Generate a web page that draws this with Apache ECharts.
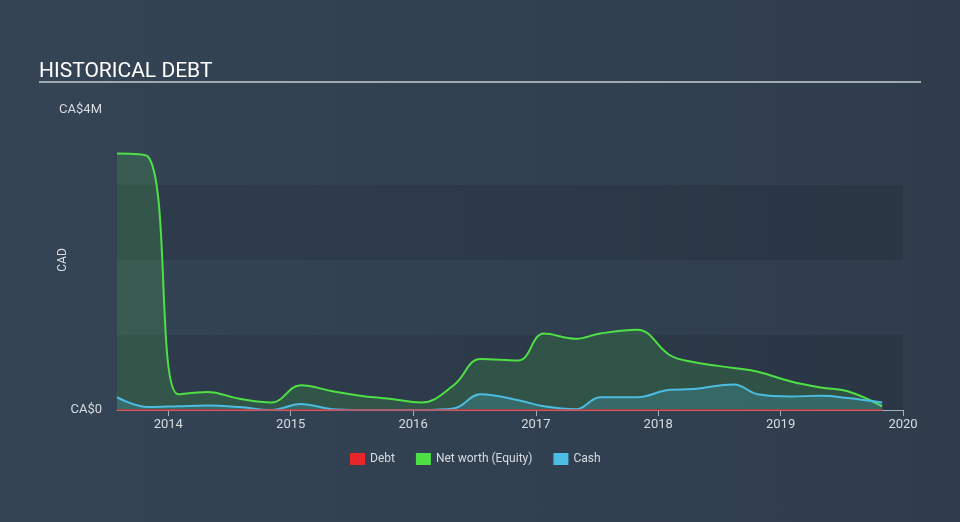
<!DOCTYPE html>
<html>
<head>
<meta charset="utf-8">
<script src="https://cdn.jsdelivr.net/npm/echarts@6/dist/echarts.min.js"></script>
<style>
html,body{margin:0;padding:0;}
#chart{width:960px;height:522px;background:linear-gradient(90deg,#354455 0%,#314050 60%,#2f3c4b 100%);}
</style>
</head>
<body>
<div id="chart"></div>
<script>
var dates = ['2013-08-01','2013-11-01','2014-01-31','2014-04-27','2014-08-01','2014-11-05','2015-01-31','2015-05-06','2015-07-27','2015-10-23','2016-01-25','2016-05-01','2016-07-20','2016-11-10','2017-01-25','2017-05-01','2017-07-12','2017-10-31','2018-02-05','2018-04-15','2018-08-15','2018-10-25','2019-02-01','2019-05-01','2019-07-20','2019-10-31'];
var netWorth = [3.42,3.38,0.21,0.24,0.15,0.10,0.33,0.25,0.19,0.15,0.10,0.33,0.68,0.66,1.02,0.95,1.02,1.07,0.73,0.64,0.56,0.51,0.38,0.30,0.25,0.05];
var cash = [0.17,0.04,0.05,0.06,0.04,0.00,0.08,0.01,0.00,0.00,0.00,0.02,0.21,0.13,0.05,0.01,0.17,0.17,0.27,0.28,0.34,0.21,0.18,0.19,0.16,0.10];
var debt = [0,0,0,0,0,0,0,0,0,0,0,0,0,0,0,0,0,0,0,0,0,0,0,0,0,0];
var yTickLabels = {0:'CA$0', 4:'CA$4M'};

function pairs(arr){ return dates.map(function(d,i){ return [d, arr[i]*1e6]; }); }

var chart = echarts.init(document.getElementById('chart'), null, {renderer:'canvas'});
var txt = '#d8dce0';
chart.setOption({
  backgroundColor: 'transparent',
  animation: false,
  textStyle: {fontFamily: 'Roboto, sans-serif'},
  title: {
    text: 'HISTORICAL DEBT', left: 34, top: 56,
    textStyle: {color: '#ffffff', fontSize: 21, fontWeight: 'normal', fontFamily: 'Roboto, sans-serif'}
  },
  graphic: [{
    type: 'rect', shape: {x: 39, y: 81, width: 882, height: 2},
    style: {fill: '#a4a9b0'}
  }],
  legend: {
    bottom: 52, left: 345, itemWidth: 15, itemHeight: 12, itemGap: 21,
    icon: 'rect',
    textStyle: {color: txt, fontSize: 12},
    data: ['Debt','Net worth (Equity)','Cash']
  },
  grid: {left: 117, right: 57, top: 110, bottom: 112, containLabel: false},
  xAxis: {
    type: 'time',
    min: '2013-08-01', max: '2020-01-01',
    minInterval: 365*86400000, maxInterval: 366*86400000,
    axisLine: {lineStyle: {color: '#a7adb5', width: 1}},
    axisTick: {show: true, length: 6, lineStyle: {color: '#a7adb5'}},
    axisLabel: {color: txt, fontSize: 13, formatter: '{yyyy}', showMinLabel: false, showMaxLabel: true, margin: 8},
    splitLine: {show: false}
  },
  yAxis: {
    type: 'value', min: 0, max: 4e6, interval: 1e6,
    name: 'CAD', nameLocation: 'middle', nameGap: 48, nameRotate: 90, nameMoveOverlap: false,
    nameTextStyle: {color: txt, fontSize: 12},
    axisLine: {show: false}, axisTick: {show: false},
    axisLabel: {color: txt, fontSize: 13, margin: 15,
      formatter: function(v){ var k = Math.round(v/1e6); return yTickLabels[k] !== undefined ? yTickLabels[k] : ''; }},
    splitLine: {show: false},
    splitArea: {show: true, areaStyle: {color: ['rgba(20,30,40,0.18)','rgba(0,0,0,0)']}}
  },
  series: [
    {name: 'Net worth (Equity)', type: 'line', data: pairs(netWorth), smooth: 0.4, symbol: 'none',
     lineStyle: {color: '#4fe046', width: 2}, itemStyle: {color: '#4fe046'},
     areaStyle: {color: 'rgba(78,226,74,0.22)'}, z: 2},
    {name: 'Cash', type: 'line', data: pairs(cash), smooth: 0.4, symbol: 'none',
     lineStyle: {color: '#4cbde0', width: 2}, itemStyle: {color: '#4cbde0'},
     areaStyle: {color: 'rgba(76,189,224,0.3)'}, z: 3},
    {name: 'Debt', type: 'line', data: pairs(debt), smooth: 0.4, symbol: 'none',
     lineStyle: {color: '#e8262a', width: 2, opacity: 0.6}, itemStyle: {color: '#e8262a'}, z: 4}
  ]
});
</script>
</body>
</html>
